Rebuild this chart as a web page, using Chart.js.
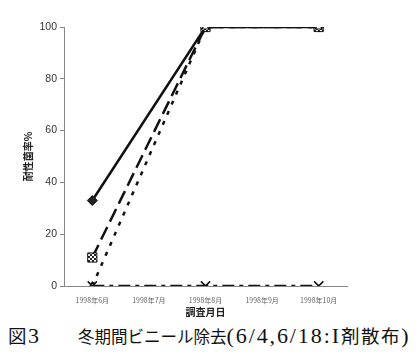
<!DOCTYPE html>
<html>
<head>
<meta charset="utf-8">
<script src="https://cdn.jsdelivr.net/npm/chart.js@4/dist/chart.umd.min.js"></script>
<style>
  body { margin: 0; background: #fff; }
  #wrap { position: relative; width: 420px; height: 356px; }
  #grafico { position: absolute; left: 0; top: 0; }
  #caption {
    position: absolute; left: 8px; top: 322px; width: 412px;
    font-family: "Noto Sans CJK JP", serif; font-size: 16.5px; color: #111;
    white-space: nowrap;
  }
  #caption .lat { font-family: "Liberation Serif", serif; font-size: 22px; letter-spacing: 1.9px; }
  #caption .big { font-size: 18.5px; letter-spacing: 1.6px; }
</style>
</head>
<body>
<div id="wrap">
  <canvas id="grafico" width="420" height="318"></canvas>
  <div id="caption"><span class="big">図</span><span class="lat">3</span><span style="margin-left:37px">冬期間ビニール除去</span><span class="lat">(6/4,6/18:I</span><span class="big">剤散布</span><span class="lat">)</span></div>
</div>
<script>
// 調査月日
const meses = ['1998年6月', '1998年7月', '1998年8月', '1998年9月', '1998年10月'];
// 耐性菌率 (%) por serie; null = sin muestreo
const serieA = [33, null, 100, null, 100];
const serieB = [11, null, 100, null, 100];
const serieC = [0, null, 100, null, 100];
const serieD = [0, null, 0, null, 0];

// patrón cuadriculado para el marcador cuadrado
const pat = document.createElement('canvas');
pat.width = 4; pat.height = 4;
const pc = pat.getContext('2d');
pc.fillStyle = '#fff'; pc.fillRect(0, 0, 4, 4);
pc.fillStyle = '#222'; pc.fillRect(0, 0, 2, 2); pc.fillRect(2, 2, 2, 2);
const ctx = document.getElementById('grafico').getContext('2d');
const cuadros = ctx.createPattern(pat, 'repeat');

new Chart(ctx, {
    type: 'line',
    data: {
        labels: meses,
        datasets: [
            {
                label: 'D', data: serieD, order: 0,
                borderColor: '#111', borderWidth: 2.5, borderDash: [12, 5, 4, 5],
                pointStyle: 'crossRot', pointRadius: 6.5, pointBorderWidth: 1.6,
                pointBorderColor: '#111', spanGaps: true
            },
            {
                label: 'C', data: serieC, order: 1,
                borderColor: '#111', borderWidth: 2.5, borderDash: [4, 7],
                pointStyle: 'triangle', pointRadius: 4, pointBorderWidth: 1.2,
                pointBackgroundColor: '#fff', pointBorderColor: '#111', spanGaps: true
            },
            {
                label: 'B', data: serieB, order: 2,
                borderColor: '#111', borderWidth: 2.5, borderDash: [14, 6],
                pointStyle: 'rect', pointRadius: 6.5, pointBorderWidth: 1,
                pointBackgroundColor: cuadros, pointBorderColor: '#111', spanGaps: true
            },
            {
                label: 'A', data: serieA, order: 3,
                borderColor: '#111', borderWidth: 2.5,
                pointStyle: 'rectRot', pointRadius: 5, pointBorderWidth: 1,
                pointBackgroundColor: '#222', pointBorderColor: '#111', spanGaps: true
            }
        ]
    },
    options: {
        responsive: false,
        animation: false,
        layout: { padding: { left: 0, right: 73, top: 27, bottom: 0 } },
        plugins: {
            legend: { display: false },
            tooltip: { enabled: false }
        },
        scales: {
            x: {
                offset: true,
                afterFit: s => { s.height = 32; },
                grid: { display: false },
                border: { display: true, color: '#888', width: 1 },
                ticks: { color: '#666', font: { family: 'Noto Sans CJK JP', size: 7 }, padding: 2, maxRotation: 0 },
                title: { display: true, text: '調査月日', color: '#222', padding: 0,
                         font: { family: 'Noto Sans CJK JP', size: 10, weight: 'bold' } }
            },
            y: {
                min: 0, max: 100,
                afterFit: s => { s.width = 64; },
                grid: { display: true, drawOnChartArea: false, drawTicks: true, tickLength: 4, color: '#888' },
                border: { display: true, color: '#888', width: 1 },
                ticks: { stepSize: 20, color: '#333', padding: 3, font: { family: 'Liberation Sans', size: 10.5 } },
                title: { display: true, text: '耐性菌率%', color: '#222', padding: { top: 22, bottom: 0 },
                         font: { family: 'Noto Sans CJK JP', size: 10, weight: 'bold' } }
            }
        }
    }
});
</script>
</body>
</html>
